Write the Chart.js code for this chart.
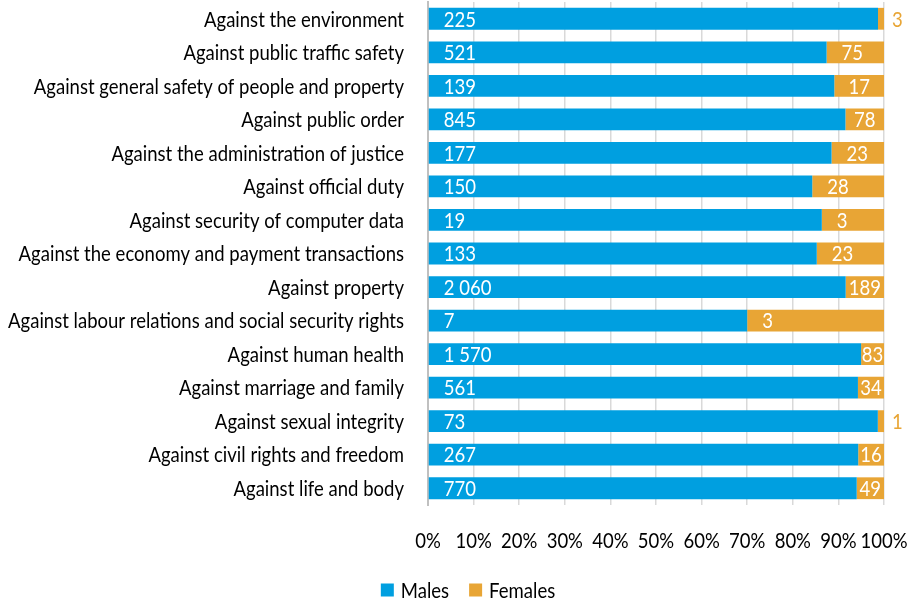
<!DOCTYPE html>
<html>
<head>
<meta charset="utf-8">
<script src="https://cdn.jsdelivr.net/npm/chart.js@4"></script>
<style>
  html, body { margin: 0; padding: 0; background: #fff; }
  #wrap { width: 912px; height: 600px; }
</style>
</head>
<body>
<div id="wrap"><canvas id="chart"></canvas></div>
<script>
const categories = [
  "Against the environment",
  "Against public traffic safety",
  "Against general safety of people and property",
  "Against public order",
  "Against the administration of justice",
  "Against official duty",
  "Against security of computer data",
  "Against the economy and payment transactions",
  "Against property",
  "Against labour relations and social security rights",
  "Against human health",
  "Against marriage and family",
  "Against sexual integrity",
  "Against civil rights and freedom",
  "Against life and body"
];
const males = [225, 521, 139, 845, 177, 150, 19, 133, 2060, 7, 1570, 561, 73, 267, 770];
const females = [3, 75, 17, 78, 23, 28, 3, 23, 189, 3, 83, 34, 1, 16, 49];
const tickLabels = ["0%", "10%", "20%", "30%", "40%", "50%", "60%", "70%", "80%", "90%", "100%"];

const FONT = "21px Lato, 'Open Sans', sans-serif";
const BLUE = "#009fe0";
const ORANGE = "#e8a535";

const malePct = males.map((m, i) => m / (m + females[i]) * 100);
const femalePct = females.map((f, i) => f / (males[i] + f) * 100);

function fmt(n) {
  return String(n).replace(/\B(?=(\d{3})+(?!\d))/g, " ");
}

// squeeze factor so the text looks like a condensed face
let SX = 0.8;
(function () {
  const c = document.createElement("canvas").getContext("2d");
  c.font = FONT;
  const longest = Math.max(...categories.map(t => c.measureText(t).width));
  SX = 396 / longest;
})();

function text(ctx, txt, x, y, align, color) {
  ctx.save();
  ctx.translate(x, y);
  ctx.scale(SX, 1);
  ctx.font = FONT;
  ctx.textAlign = align;
  ctx.textBaseline = "middle";
  ctx.fillStyle = color;
  ctx.fillText(txt, 0, 0);
  ctx.restore();
}
function textWidth(ctx, txt) {
  ctx.save();
  ctx.font = FONT;
  const w = ctx.measureText(txt).width * SX;
  ctx.restore();
  return w;
}

// axis labels, legend and bar values drawn in the squeezed face
const condensedText = {
  id: "condensedText",
  afterDraw(chart) {
    const ctx = chart.ctx;
    const xs = chart.scales.x, ys = chart.scales.y;
    categories.forEach((c, i) => {
      text(ctx, c, xs.left - 24, ys.getPixelForTick(i) + 1, "right", "#000");
    });
    xs.ticks.forEach((t, i) => {
      text(ctx, tickLabels[i], xs.getPixelForTick(i), 541, "center", "#000");
    });

    const raw = [males, females];
    chart.data.datasets.forEach((ds, di) => {
      chart.getDatasetMeta(di).data.forEach((bar, i) => {
        const txt = fmt(raw[di][i]);
        const tw = textWidth(ctx, txt);
        const w = bar.x - bar.base;
        if (di === 0) {
          text(ctx, txt, bar.base + 15, bar.y + 1, "left", "#fff");
        } else if (w < 12 || w < tw - 4) {
          text(ctx, txt, bar.x + 8, bar.y + 1, "left", ORANGE);
        } else {
          const off = Math.min((w - tw) / 2, 15);
          text(ctx, txt, bar.base + off, bar.y + 1, "left", "#fff");
        }
      });
    });

    // legend
    const items = chart.data.datasets.map(d => ({ label: d.label, color: d.backgroundColor }));
    const box = 13, gap = 7, space = 20;
    const widths = items.map(it => box + gap + textWidth(ctx, it.label));
    const total = widths.reduce((a, b) => a + b, 0) + space * (items.length - 1);
    let x = 468 - total / 2;
    const y = 590;
    items.forEach((it, i) => {
      ctx.fillStyle = it.color;
      ctx.fillRect(x, y - box / 2, box, box);
      text(ctx, it.label, x + box + gap, y + 1, "left", "#000");
      x += widths[i] + space;
    });
  }
};

new Chart(document.getElementById("chart"), {
  type: "bar",
  data: {
    labels: categories,
    datasets: [
      { label: "Males", data: malePct, backgroundColor: BLUE },
      { label: "Females", data: femalePct, backgroundColor: ORANGE }
    ]
  },
  options: {
    indexAxis: "y",
    responsive: true,
    maintainAspectRatio: false,
    animation: false,
    layout: { padding: { left: 0, right: 28, top: 2, bottom: 0 } },
    datasets: { bar: { barPercentage: 0.65, categoryPercentage: 1 } },
    scales: {
      x: {
        stacked: true,
        min: 0,
        max: 100,
        ticks: { stepSize: 10, display: false },
        grid: { color: "#d9d9d9", lineWidth: 1.5, drawTicks: false },
        border: { display: false },
        afterFit(scale) { scale.height = 95; }
      },
      y: {
        stacked: true,
        ticks: { display: false },
        grid: { display: false, drawTicks: false },
        border: { display: true, color: "#c0c0c0", width: 2 },
        afterFit(scale) { scale.width = 428; }
      }
    },
    plugins: {
      legend: { display: false },
      tooltip: { enabled: false }
    }
  },
  plugins: [condensedText]
});
</script>
</body>
</html>
